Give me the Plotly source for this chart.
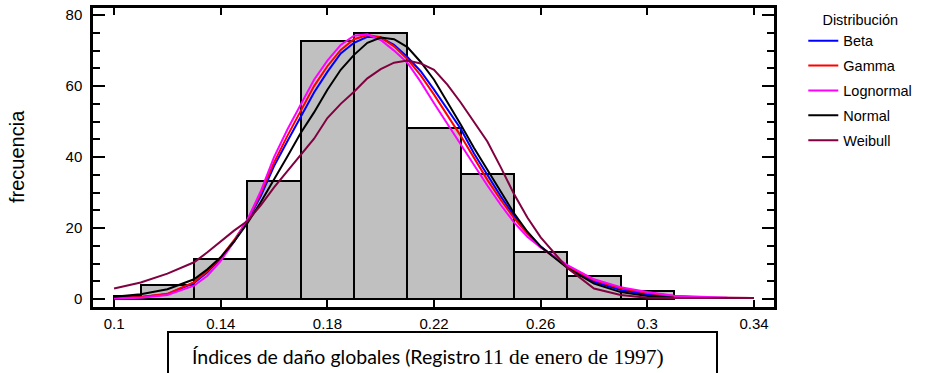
import plotly.graph_objects as go

# Histogram classes (lower / upper limits) and observed frequencies
bin_left = [0.10, 0.11, 0.13, 0.15, 0.17, 0.19, 0.21, 0.23, 0.25, 0.27, 0.29]
bin_right = [0.11, 0.13, 0.15, 0.17, 0.19, 0.21, 0.23, 0.25, 0.27, 0.29, 0.31]
freq = [1.0, 4.0, 11.3, 33.4, 72.7, 74.9, 48.1, 35.3, 13.2, 6.5, 2.3]

# Fitted distributions, expressed as expected frequency per class
x_fit = [0.10, 0.11, 0.12, 0.13, 0.135, 0.14, 0.145, 0.15, 0.155, 0.16, 0.165,
         0.17, 0.175, 0.18, 0.185, 0.19, 0.195, 0.20, 0.205, 0.21, 0.215, 0.22,
         0.225, 0.23, 0.235, 0.24, 0.245, 0.25, 0.255, 0.26, 0.27, 0.28, 0.29,
         0.30, 0.31, 0.32, 0.33, 0.34]
beta = [0.3, 0.6, 1.4, 4.6, 7.6, 11.5, 16.3, 22.0, 29.0, 37.5, 44.5, 51.5, 58.2,
        64.0, 69.2, 72.2, 73.9, 73.6, 71.6, 68.2, 64.2, 59.0, 53.5, 48.0, 41.0,
        34.8, 29.0, 23.4, 18.9, 14.8, 9.0, 4.9, 2.6, 1.3, 0.6, 0.4, 0.3, 0.3]
gamma = [0.3, 0.6, 1.5, 4.8, 7.9, 11.8, 16.6, 22.2, 29.8, 38.5, 46.0, 53.2, 60.0,
         65.6, 70.2, 73.2, 74.4, 73.8, 71.2, 67.6, 63.0, 57.6, 51.8, 46.0, 39.8,
         33.6, 28.0, 22.8, 18.4, 14.6, 9.2, 5.4, 3.1, 1.8, 0.9, 0.5, 0.4, 0.3]
lognormal = [0.2, 0.4, 1.2, 3.8, 6.6, 10.8, 16.2, 22.4, 30.4, 40.0, 47.8, 55.0,
             61.8, 67.2, 71.6, 74.2, 74.6, 73.0, 70.0, 66.6, 61.2, 55.2, 49.4,
             43.6, 37.8, 32.0, 26.6, 21.6, 17.6, 14.6, 9.6, 5.6, 3.4, 2.0, 1.0,
             0.6, 0.4, 0.3]
normal = [0.7, 1.4, 2.8, 5.6, 8.4, 11.8, 16.2, 21.4, 27.3, 33.6, 40.2, 46.8, 52.6,
          59.0, 64.6, 68.8, 72.2, 73.7, 73.2, 71.0, 66.8, 61.8, 55.6, 49.2, 42.6,
          36.4, 30.2, 24.2, 19.0, 14.8, 8.8, 4.4, 2.0, 0.9, 0.4, 0.3, 0.3, 0.3]
weibull = [3.0, 4.7, 7.2, 10.4, 13.2, 16.3, 19.3, 22.0, 26.4, 31.5, 36.0, 40.4,
           45.2, 51.0, 55.0, 58.4, 62.2, 64.8, 66.6, 67.2, 66.4, 64.6, 60.4, 55.4,
           50.0, 44.4, 37.2, 29.6, 23.0, 17.4, 8.8, 3.0, 1.2, 0.4, 0.3, 0.3, 0.3,
           0.3]

series = [
    ("Beta", beta, "#0000FF"),
    ("Gamma", gamma, "#FF0000"),
    ("Lognormal", lognormal, "#FF00FF"),
    ("Normal", normal, "#000000"),
    ("Weibull", weibull, "#800040"),
]

x_ticks = [0.1, 0.14, 0.18, 0.22, 0.26, 0.3, 0.34]
x_tick_text = ["0.1", "0.14", "0.18", "0.22", "0.26", "0.3", "0.34"]
y_ticks = [0, 20, 40, 60, 80]

centers = [(a + b) / 2 for a, b in zip(bin_left, bin_right)]
widths = [b - a for a, b in zip(bin_left, bin_right)]

fig = go.Figure()
fig.add_trace(go.Bar(
    x=centers, y=freq, width=widths,
    marker=dict(color="#C0C0C0", line=dict(color="black", width=2)),
    showlegend=False, hoverinfo="skip",
))

for i, (name, vals, color) in enumerate(series):
    fig.add_trace(go.Scatter(
        x=x_fit, y=vals, mode="lines", name=name,
        line=dict(color=color, width=2),
        legendgroup=f"g{i}",
    ))

axis_font = dict(family="Liberation Sans, Arial, sans-serif", size=15, color="black")

fig.update_layout(
    width=925, height=373,
    margin=dict(l=93, r=151, t=8, b=66, autoexpand=False),
    paper_bgcolor="white", plot_bgcolor="white",
    barmode="overlay", bargap=0,
    font=axis_font,
    showlegend=True,
    legend=dict(
        x=1.043, y=1.0067, xanchor="left", yanchor="top",
        bgcolor="rgba(0,0,0,0)",
        font=dict(family="Liberation Sans, Arial, sans-serif", size=14.5, color="black"),
        title=dict(text="Distribución", side="top center",
                   font=dict(family="Liberation Sans, Arial, sans-serif", size=14.5)),
        tracegroupgap=3,
        traceorder="grouped",
    ),
    xaxis=dict(
        range=[0.0921, 0.3475],
        tickvals=x_ticks, ticktext=x_tick_text,
        ticks="inside", ticklen=7, tickwidth=2, tickcolor="black",
        showline=True, linewidth=2.5, linecolor="black", mirror="allticks",
        showgrid=False, zeroline=False,
        ticklabelstandoff=1,
        tickfont=axis_font,
    ),
    yaxis=dict(
        range=[-2.2, 82.0],
        tickvals=y_ticks,
        ticks="inside", ticklen=12, tickwidth=2, tickcolor="black",
        minor=dict(dtick=5, tick0=0, ticks="inside", ticklen=7, tickwidth=2,
                   tickcolor="black", showgrid=False),
        showline=True, linewidth=2.5, linecolor="black", mirror="allticks",
        showgrid=False, zeroline=False,
        ticklabelstandoff=5,
        tickfont=axis_font,
    ),
)

# y-axis caption
fig.add_annotation(
    text="frecuencia", xref="paper", yref="paper",
    x=(17 - 93) / 681, y=(307 - 157) / 299,
    xanchor="center", yanchor="middle",
    textangle=-90, showarrow=False,
    font=dict(family="Liberation Sans, Arial, sans-serif", size=20, color="black"),
)

# boxed x-axis caption: sans-serif lead-in followed by the date in a serif face
fig.add_shape(
    type="rect", xref="paper", yref="paper",
    x0=(168 - 93) / 681, x1=(717 - 93) / 681,
    y0=(307 - 332) / 299, y1=(307 - 390) / 299,
    line=dict(color="black", width=2), fillcolor="rgba(0,0,0,0)",
)
fig.add_annotation(
    text="Índices de daño globales (Registro",
    xref="paper", yref="paper",
    x=(190 - 93) / 681, y=(307 - 357) / 299,
    xanchor="left", yanchor="middle", showarrow=False,
    font=dict(family="Lato, sans-serif", size=19.5, color="black"),
)
fig.add_annotation(
    text="11 de enero de 1997)",
    xref="paper", yref="paper",
    x=(481 - 93) / 681, y=(307 - 357) / 299,
    xanchor="left", yanchor="middle", showarrow=False,
    font=dict(family="Liberation Serif, Times New Roman, serif", size=21.5, color="black"),
)

fig.write_html("out.html")
